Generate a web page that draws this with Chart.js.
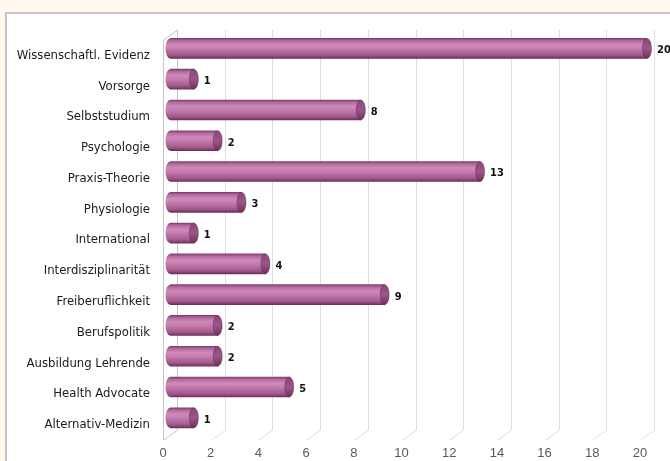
<!DOCTYPE html>
<html>
<head>
<meta charset="utf-8">
<script src="https://cdn.jsdelivr.net/npm/chart.js@4.4.1/dist/chart.umd.min.js"></script>
<style>
  html, body { margin: 0; padding: 0; }
  body { width: 670px; height: 461px; background: #fefaf0; position: relative; overflow: hidden; }
  #panel { position: absolute; left: 5px; top: 12px; width: 700px; height: 500px;
           background: #ffffff; border-left: 2px solid #d5bccb; border-top: 2px solid #d5bccb; }
  #wrap { position: absolute; left: 0; top: 0; width: 670px; height: 461px; }
</style>
</head>
<body>
<div id="panel"></div>
<div id="wrap"><canvas id="chart" width="670" height="461"></canvas></div>
<script>
// Kategorien und Nennungen (von oben nach unten)
var kategorien = [
    "Wissenschaftl. Evidenz", "Vorsorge", "Selbststudium", "Psychologie",
    "Praxis-Theorie", "Physiologie", "International", "Interdisziplinarität",
    "Freiberuflichkeit", "Berufspolitik", "Ausbildung Lehrende",
    "Health Advocate", "Alternativ-Medizin"
];
var nennungen = [20, 1, 8, 2, 13, 3, 1, 4, 9, 2, 2, 5, 1];
var achseMax = 20;
var achseSchritt = 2;

var schmal = '"DejaVu Sans Condensed", "Liberation Sans Narrow", "Arial Narrow", sans-serif';

// Tiefe der 3D-Darstellung
var tiefeX = 14, tiefeY = -10;
var balkenDX = 7, balkenDY = -7;
var balkenDicke = 20;
var kappeRX = 4.5;

function balkenVerlauf(ctx, y, h) {
    var g = ctx.createLinearGradient(0, y - h / 2, 0, y + h / 2);
    g.addColorStop(0, '#7e3f6e');
    g.addColorStop(0.12, '#b06c9e');
    g.addColorStop(0.32, '#d08ab9');
    g.addColorStop(0.55, '#c078aa');
    g.addColorStop(0.85, '#a05689');
    g.addColorStop(1, '#6a3159');
    return g;
}

// Rahmen, Gitterlinien und Boden in 3D
var rahmenPlugin = {
    id: 'rahmen3d',
    beforeDatasetsDraw: function(chart) {
        var ctx = chart.ctx;
        var area = chart.chartArea;
        var xs = chart.scales.x;
        ctx.save();
        ctx.lineWidth = 1;
        for (var v = 0; v <= achseMax; v += achseSchritt) {
            var xf = Math.round(xs.getPixelForValue(v)) + 0.5;
            ctx.strokeStyle = v === 0 ? '#c4c4c4' : '#dedede';
            ctx.beginPath();
            ctx.moveTo(xf + tiefeX, area.top + tiefeY);
            ctx.lineTo(xf + tiefeX, area.bottom + tiefeY);
            ctx.lineTo(xf, area.bottom);
            ctx.stroke();
        }
        // linke Wand
        var xl = Math.round(area.left) + 0.5;
        ctx.strokeStyle = '#c4c4c4';
        ctx.beginPath();
        ctx.moveTo(xl + tiefeX, area.top + tiefeY);
        ctx.lineTo(xl, area.top);
        ctx.lineTo(xl, area.bottom);
        ctx.stroke();
        ctx.restore();

        // Balken in die Mitte der Tiefe verschieben
        ctx.save();
        ctx.translate(balkenDX, balkenDY);
    },
    afterDatasetsDraw: function(chart) {
        var ctx = chart.ctx;
        var meta = chart.getDatasetMeta(0);
        meta.data.forEach(function(bar, i) {
            var h = bar.height;
            var y = bar.y;
            // linkes gerundetes Ende
            ctx.fillStyle = balkenVerlauf(ctx, y, h);
            ctx.beginPath();
            ctx.ellipse(bar.base, y, kappeRX, h / 2, 0, Math.PI / 2, Math.PI * 1.5);
            ctx.fill();
            // rechte Stirnfläche
            var g = ctx.createLinearGradient(0, y - h / 2, 0, y + h / 2);
            g.addColorStop(0, '#8a4779');
            g.addColorStop(0.5, '#9c5589');
            g.addColorStop(1, '#6c3259');
            ctx.fillStyle = g;
            ctx.beginPath();
            ctx.ellipse(bar.x, y, kappeRX, h / 2, 0, 0, Math.PI * 2);
            ctx.fill();
            ctx.strokeStyle = 'rgba(90,40,75,0.6)';
            ctx.lineWidth = 0.8;
            ctx.stroke();
            // Wert
            ctx.fillStyle = '#111111';
            ctx.font = 'bold 11px ' + schmal;
            ctx.textAlign = 'left';
            ctx.textBaseline = 'middle';
            ctx.fillText(String(nennungen[i]), bar.x + 10, y + 2);
        });
        ctx.restore();
    }
};

var ctx = document.getElementById('chart').getContext('2d');
var chart = new Chart(ctx, {
    type: 'bar',
    data: {
        labels: kategorien,
        datasets: [{
            data: nennungen,
            barThickness: balkenDicke,
            borderWidth: 0,
            backgroundColor: function(c) {
                var ch = c.chart;
                var ys = ch.scales.y;
                if (!ys || !ch.chartArea) return '#c078aa';
                var y = ys.getPixelForValue(c.dataIndex);
                return balkenVerlauf(ch.ctx, y, balkenDicke);
            }
        }]
    },
    options: {
        indexAxis: 'y',
        responsive: false,
        animation: false,
        devicePixelRatio: 1,
        layout: { padding: { left: 0, top: 40, right: 30, bottom: 0 } },
        plugins: {
            legend: { display: false },
            tooltip: { enabled: false }
        },
        scales: {
            x: {
                min: 0,
                max: achseMax,
                grid: { display: false, drawTicks: false },
                border: { display: false },
                ticks: {
                    stepSize: achseSchritt,
                    padding: 5,
                    color: '#595959',
                    font: { family: '"Liberation Sans", Arial, sans-serif', size: 13 }
                },
                afterFit: function(scale) { scale.height = 19; }
            },
            y: {
                grid: { display: false, drawTicks: false },
                border: { display: false },
                ticks: {
                    padding: 13,
                    color: '#1a1a1a',
                    font: { family: schmal, size: 13 }
                },
                afterFit: function(scale) { scale.width = 163; }
            }
        }
    },
    plugins: [rahmenPlugin]
});
</script>
</body>
</html>
